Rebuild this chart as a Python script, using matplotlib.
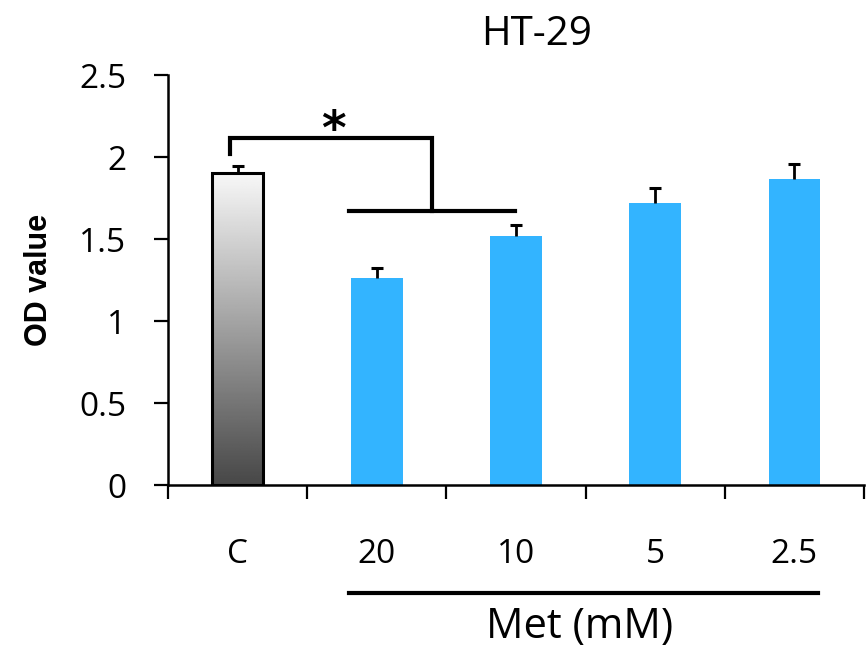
import numpy as np
import matplotlib
matplotlib.use('Agg')
import matplotlib.pyplot as plt
from matplotlib.transforms import blended_transform_factory

groups = ['C', '20', '10', '5', '2.5']
od_values = [1.90, 1.26, 1.52, 1.72, 1.865]
od_errors = [0.045, 0.065, 0.065, 0.09, 0.09]

plt.rcParams['font.family'] = 'Open Sans'

fig = plt.figure(figsize=(8.67, 6.52), dpi=100)
ax = fig.add_axes([168 / 867, 1 - 485 / 652, (864 - 168) / 867, (485 - 75) / 652])

x = np.arange(len(groups))
blue = '#33B4FF'
width = 0.37

# control bar: gradient fill with black edge
ctrl = ax.bar(x[0], od_values[0], width=width, color='none', edgecolor='black',
              linewidth=2.2, zorder=3)[0]
grad = np.linspace(0.97, 0.28, 256).reshape(-1, 1)
im = ax.imshow(grad, cmap='gray', vmin=0, vmax=1, aspect='auto',
               extent=[x[0] - width / 2, x[0] + width / 2, 0, od_values[0]],
               origin='upper', zorder=2)
im.set_clip_path(ctrl)

ax.bar(x[1:], od_values[1:], width=width, color=blue, zorder=2)

# upper error bars only
_, caps, _ = ax.errorbar(x, od_values, yerr=[np.zeros(len(x)), od_errors],
                         fmt='none', ecolor='black', elinewidth=2, capsize=4.5,
                         capthick=2.2, zorder=4)
caps[0].set_visible(False)

ax.set_xlim(-0.5, 4.5)
ax.set_ylim(0, 2.5)
ax.set_yticks([0, 0.5, 1, 1.5, 2, 2.5])
ax.set_yticklabels(['0', '0.5', '1', '1.5', '2', '2.5'])
ax.set_xticks(np.arange(-0.5, 5, 1))
ax.set_xticklabels([])
ax.set_xticks(x, minor=True)
ax.set_xticklabels(groups, minor=True)
ax.tick_params(axis='x', which='major', length=10, width=1.6, direction='out')
ax.tick_params(axis='x', which='minor', length=0, pad=38, labelsize=24)
ax.tick_params(axis='y', length=10, width=1.6, pad=20, labelsize=24)

for side in ['top', 'right']:
    ax.spines[side].set_visible(False)
for side in ['left', 'bottom']:
    ax.spines[side].set_linewidth(1.8)

ax.set_ylabel('OD value', family='Liberation Sans', fontweight='bold',
              fontsize=22, labelpad=18)

# significance bracket
lw = 3
ax.plot([-0.055, -0.055, 1.395, 1.395], [2.02, 2.116, 2.116, 1.67],
        color='black', lw=lw, clip_on=False, solid_joinstyle='miter')
ax.plot([0.8, 1.99], [1.67, 1.67], color='black', lw=lw, clip_on=False)
ax.text(0.69, 2.08, '*', ha='center', va='baseline', fontsize=34,
        fontweight='bold', family='DejaVu Sans')

# group underline and label
trans = blended_transform_factory(ax.transData, fig.transFigure)
ax.plot([0.8, 4.167], [1 - 593 / 652] * 2, color='black', lw=3,
        transform=trans, clip_on=False)
ax.text(2.458, 1 - 638 / 652, 'Met (mM)', transform=trans, ha='center',
        va='baseline', fontsize=30)
ax.text(2.15, 1 - 35 / 652, 'HT-29', transform=trans, ha='center',
        va='center', fontsize=29)

fig.savefig('out.png', dpi=100)
